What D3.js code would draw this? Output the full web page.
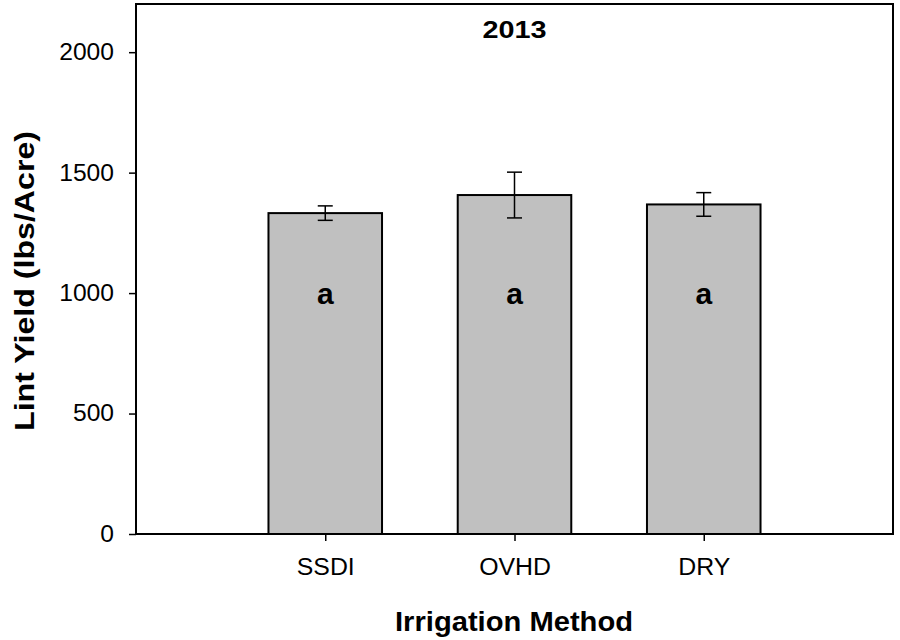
<!DOCTYPE html>
<html>
<head>
<meta charset="utf-8">
<script src="https://cdn.jsdelivr.net/npm/d3@7"></script>
<style>
  body { margin: 0; background: #fff; }
  svg { display: block; font-family: "Liberation Sans", Arial, sans-serif; }
</style>
</head>
<body>
<div id="chart"></div>
<script>
// Data (2013 lint yield)
var methods = ["SSDI", "OVHD", "DRY"];
var yields = [1332, 1407, 1368];
var errors = [30, 95, 49];
var letters = ["a", "a", "a"];
var yTicks = [0, 500, 1000, 1500, 2000];

var svg = d3.select("#chart").append("svg")
  .attr("width", 900)
  .attr("height", 640);

var margin = { top: 4, right: 7, bottom: 106, left: 136 };
var width = 900 - margin.left - margin.right;
var height = 640 - margin.top - margin.bottom;

// categories sit at 1,2,3 on a 0..4 axis
var x = d3.scaleLinear().domain([0, 4]).range([0, width]);
var y = d3.scaleLinear().domain([0, 2200]).range([height, 0]);
var barW = x(0.6) - x(0);

var g = svg.append("g")
  .attr("transform", "translate(" + margin.left + "," + margin.top + ")");

// stretch text horizontally a bit, the source font renders wider
function stretchText(sel, k) {
  sel.each(function () {
    var len = this.getComputedTextLength();
    d3.select(this).attr("textLength", len * k).attr("lengthAdjust", "spacingAndGlyphs");
  });
}

// bars
g.selectAll(".bar")
  .data(yields)
  .enter()
  .append("rect")
  .attr("class", "bar")
  .attr("x", function (d, i) { return x(i + 1) - barW / 2; })
  .attr("y", function (d) { return y(d); })
  .attr("width", barW)
  .attr("height", function (d) { return height - y(d); })
  .style("fill", "#c0c0c0")
  .style("stroke", "#000")
  .style("stroke-width", 2);

// error bars
var capW = 15;
var err = g.selectAll(".err")
  .data(yields)
  .enter()
  .append("g")
  .attr("class", "err")
  .style("stroke", "#000")
  .style("stroke-width", 1.5);

err.append("line")
  .attr("x1", function (d, i) { return x(i + 1); })
  .attr("x2", function (d, i) { return x(i + 1); })
  .attr("y1", function (d, i) { return y(d - errors[i]); })
  .attr("y2", function (d, i) { return y(d + errors[i]); });
err.append("line")
  .attr("x1", function (d, i) { return x(i + 1) - capW / 2; })
  .attr("x2", function (d, i) { return x(i + 1) + capW / 2; })
  .attr("y1", function (d, i) { return y(d + errors[i]); })
  .attr("y2", function (d, i) { return y(d + errors[i]); });
err.append("line")
  .attr("x1", function (d, i) { return x(i + 1) - capW / 2; })
  .attr("x2", function (d, i) { return x(i + 1) + capW / 2; })
  .attr("y1", function (d, i) { return y(d - errors[i]); })
  .attr("y2", function (d, i) { return y(d - errors[i]); });

// significance letters inside bars
g.selectAll(".letter")
  .data(letters)
  .enter()
  .append("text")
  .attr("class", "letter")
  .attr("x", function (d, i) { return x(i + 1); })
  .attr("y", y(955))
  .attr("text-anchor", "middle")
  .style("font-size", "30px")
  .style("font-weight", "bold")
  .text(function (d) { return d; });

// axes
var yAxis = g.append("g")
  .attr("class", "axis")
  .call(d3.axisLeft(y).tickValues(yTicks).tickSize(7).tickPadding(15).tickFormat(d3.format("d")));
yAxis.select(".domain").remove();
yAxis.selectAll("line").style("stroke-width", 1.5);
yAxis.selectAll("text")
  .style("font-size", "23px")
  .style("font-family", "'Liberation Sans', Arial, sans-serif")
  .attr("fill", "#000")
  .call(stretchText, 1.07);

var xAxis = g.append("g")
  .attr("class", "axis")
  .attr("transform", "translate(0," + height + ")")
  .call(d3.axisBottom(x).tickValues([1, 2, 3]).tickSize(7).tickPadding(18)
    .tickFormat(function (d) { return methods[d - 1]; }));
xAxis.select(".domain").remove();
xAxis.selectAll("line").style("stroke-width", 1.5);
xAxis.selectAll("text")
  .style("font-size", "23px")
  .style("font-family", "'Liberation Sans', Arial, sans-serif")
  .attr("fill", "#000")
  .call(stretchText, 1.08);

// frame
g.append("rect")
  .attr("x", 0)
  .attr("y", 0)
  .attr("width", width)
  .attr("height", height)
  .style("fill", "none")
  .style("stroke", "#000")
  .style("stroke-width", 2);

// title
g.append("text")
  .attr("x", x(2))
  .attr("y", 34)
  .attr("text-anchor", "middle")
  .style("font-size", "24px")
  .style("font-weight", "bold")
  .text("2013")
  .call(stretchText, 1.2);

// axis titles
svg.append("text")
  .attr("x", 514)
  .attr("y", 631)
  .attr("text-anchor", "middle")
  .attr("textLength", 238)
  .attr("lengthAdjust", "spacingAndGlyphs")
  .style("font-size", "27px")
  .style("font-weight", "bold")
  .text("Irrigation Method");

svg.append("text")
  .attr("transform", "translate(34,281) rotate(-90)")
  .attr("text-anchor", "middle")
  .attr("textLength", 300)
  .attr("lengthAdjust", "spacingAndGlyphs")
  .style("font-size", "28px")
  .style("font-weight", "bold")
  .text("Lint Yield (lbs/Acre)");
</script>
</body>
</html>
